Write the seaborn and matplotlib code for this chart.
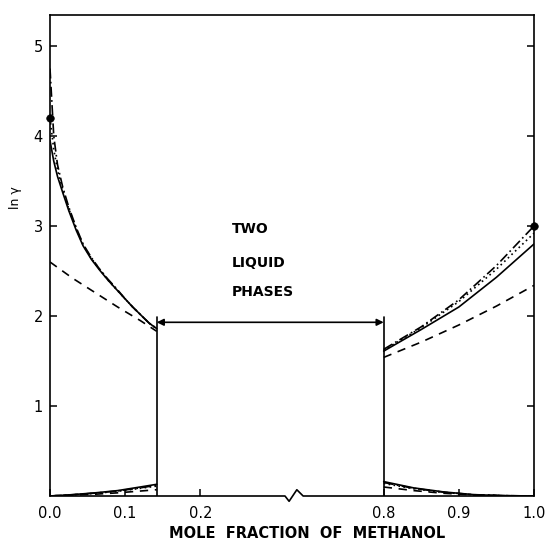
import numpy as np
import pandas as pd
import matplotlib
matplotlib.use("Agg")
import matplotlib.pyplot as plt
import seaborn as sns

# ---------------- data ----------------
# phase boundaries (mole fraction of methanol)
x_left_boundary = 0.142
x_right_boundary = 0.80
arrow_level = 1.93
boundary_top = 1.99

# upper curves, methanol-poor side
x_up_left = [0.0, 0.005, 0.01, 0.017, 0.025, 0.035, 0.044, 0.055, 0.066, 0.077, 0.089, 0.10, 0.11, 0.121, 0.132, 0.142]
solid_up_left = [3.95, 3.72, 3.55, 3.37, 3.17, 2.95, 2.78, 2.63, 2.51, 2.40, 2.29, 2.19, 2.10, 2.01, 1.92, 1.86]
dotted_up_left = [4.20, 3.85, 3.62, 3.40, 3.19, 2.97, 2.79, 2.64, 2.52, 2.40, 2.29, 2.19, 2.10, 2.01, 1.92, 1.86]
dashdot_up_left = [4.75, 4.00, 3.68, 3.43, 3.21, 2.98, 2.80, 2.65, 2.52, 2.41, 2.30, 2.19, 2.10, 2.01, 1.92, 1.86]
x_dash_up_left = [0.0, 0.03, 0.06, 0.09, 0.12, 0.142]
dashed_up_left = [2.60, 2.42, 2.26, 2.10, 1.95, 1.83]

# upper curves, methanol-rich side
x_up_right = [0.80, 0.85, 0.90, 0.95, 1.00]
solid_up_right = [1.61, 1.85, 2.10, 2.43, 2.80]
dotted_up_right = [1.62, 1.87, 2.16, 2.52, 2.92]
dashdot_up_right = [1.63, 1.88, 2.18, 2.56, 3.00]
dashed_up_right = [1.54, 1.71, 1.90, 2.11, 2.34]

# lower curves
x_low_left = [0.0, 0.03, 0.06, 0.09, 0.12, 0.142]
solid_low_left = [0.0, 0.015, 0.035, 0.06, 0.10, 0.13]
dotted_low_left = [0.0, 0.013, 0.030, 0.052, 0.085, 0.11]
dashdot_low_left = [0.0, 0.014, 0.032, 0.056, 0.09, 0.12]
dashed_low_left = [0.0, 0.010, 0.020, 0.035, 0.055, 0.07]

x_low_right = [0.80, 0.84, 0.88, 0.92, 0.96, 1.00]
solid_low_right = [0.16, 0.09, 0.045, 0.015, 0.004, 0.0]
dotted_low_right = [0.14, 0.08, 0.040, 0.013, 0.003, 0.0]
dashdot_low_right = [0.15, 0.085, 0.042, 0.014, 0.004, 0.0]
dashed_low_right = [0.10, 0.06, 0.030, 0.012, 0.003, 0.0]

# experimental end points
x_points = [0.0, 1.0]
y_points = [4.2, 3.0]

x_ticks = [0.0, 0.1, 0.2, 0.8, 0.9, 1.0]
x_ticklabels = ["0.0", "0.1", "0.2", "0.8", "0.9", "1.0"]
y_ticks = [1, 2, 3, 4, 5]
y_ticklabels = ["1", "2", "3", "4", "5"]

# ---------------- broken x scale ----------------
GAP = 0.244


def fwd(x):
    x = np.asarray(x, dtype=float)
    return np.where(x <= 0.2, x,
                    np.where(x >= 0.8, x - 0.8 + 0.2 + GAP,
                             0.2 + (x - 0.2) * GAP / 0.6))


def inv(u):
    u = np.asarray(u, dtype=float)
    return np.where(u <= 0.2, u,
                    np.where(u >= 0.2 + GAP, u - GAP + 0.6,
                             0.2 + (u - 0.2) * 0.6 / GAP))


sns.set_style("ticks")
plt.rcParams["font.family"] = ["DejaVu Sans"]
for key in ("text.color", "axes.labelcolor", "xtick.color", "ytick.color", "axes.edgecolor"):
    plt.rcParams[key] = "black"

fig = plt.figure(figsize=(5.51, 5.41), dpi=100)
ax = fig.add_axes([50 / 551, 45 / 541, 484 / 551, 481 / 541])
ax.set_xscale("function", functions=(fwd, inv))

styles = {
    "solid": "-",
    "dotted": (0, (1, 2)),
    "dashdot": (0, (6, 2, 1, 2)),
    "dashed": (0, (5, 4)),
}

series = [
    (x_up_left, solid_up_left, "solid"),
    (x_up_left, dotted_up_left, "dotted"),
    (x_up_left, dashdot_up_left, "dashdot"),
    (x_dash_up_left, dashed_up_left, "dashed"),
    (x_up_right, solid_up_right, "solid"),
    (x_up_right, dotted_up_right, "dotted"),
    (x_up_right, dashdot_up_right, "dashdot"),
    (x_up_right, dashed_up_right, "dashed"),
    (x_low_left, solid_low_left, "solid"),
    (x_low_left, dotted_low_left, "dotted"),
    (x_low_left, dashdot_low_left, "dashdot"),
    (x_low_left, dashed_low_left, "dashed"),
    (x_low_right, solid_low_right, "solid"),
    (x_low_right, dotted_low_right, "dotted"),
    (x_low_right, dashdot_low_right, "dashdot"),
    (x_low_right, dashed_low_right, "dashed"),
]

for xs, ys, st in series:
    df = pd.DataFrame({"x": xs, "y": ys})
    sns.lineplot(data=df, x="x", y="y", ax=ax, color="black", lw=1.2,
                 linestyle=styles[st], sort=False, estimator=None)

# experimental points
sns.scatterplot(x=x_points, y=y_points, ax=ax, color="black", s=30,
                edgecolor="black", zorder=5, clip_on=False)

# phase boundaries
for xb in (x_left_boundary, x_right_boundary):
    ax.plot([xb, xb], [0, boundary_top], color="black", lw=1.2)
ax.annotate("", xy=(x_left_boundary, arrow_level), xytext=(x_right_boundary, arrow_level),
            arrowprops=dict(arrowstyle="<|-|>", lw=1.2, color="black",
                            shrinkA=0, shrinkB=0, mutation_scale=10))

for txt, yy in (("TWO", 0.555), ("LIQUID", 0.484), ("PHASES", 0.424)):
    ax.text(0.376, yy, txt, transform=ax.transAxes, ha="left", va="center",
            fontsize=10, fontweight="bold", color="black")

ax.set_ylim(0, 481 / 90)
ax.set_xlim(0.0, 1.0)
ax.set_xticks(x_ticks)
ax.set_xticklabels(x_ticklabels)
ax.set_yticks(y_ticks)
ax.set_yticklabels(y_ticklabels)
ax.tick_params(axis="both", direction="in", length=5, width=1.1, labelsize=10.5,
               colors="black")
ax.tick_params(axis="x", pad=7)
ax.tick_params(axis="y", right=True, pad=5)
ax.set_xlabel("")
ax.set_ylabel("")

for sp in ax.spines.values():
    sp.set_linewidth(1.2)
    sp.set_color("black")
ax.spines["bottom"].set_visible(False)

# bottom axis line with zigzag break
zx = [0, 0.4855, 0.494, 0.510, 0.523, 1.0]
zy = [0, 0, -0.011, 0.013, 0, 0]
ax.plot(zx, zy, transform=ax.transAxes, color="black", lw=1.2, clip_on=False)

fig.text(307.5 / 551, 1 - 533 / 541, "MOLE  FRACTION  OF  METHANOL",
         ha="center", va="center", fontsize=10.5, fontweight="bold", color="black")
fig.text(16 / 551, 1 - 198 / 541, "ln γ", rotation=90, ha="center",
         va="center", fontsize=9, color="black")

fig.savefig("out.png", dpi=100)
